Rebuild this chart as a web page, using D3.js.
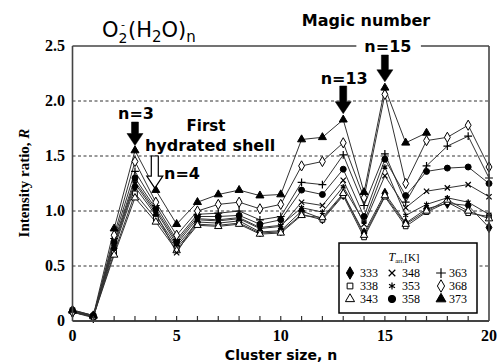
<!DOCTYPE html>
<html>
<head>
<meta charset="utf-8">
<script src="https://cdn.jsdelivr.net/npm/d3@7"></script>
<style>
  body { margin: 0; background: #fff; }
  svg { display: block; }
</style>
</head>
<body>
<div id="chart"></div>
<script>
// cluster size n = 0..20
var clusterSize = d3.range(0, 21);
var yTicks = [0, 0.5, 1.0, 1.5, 2.0, 2.5];
var yTickLabels = ["0", "0.5", "1.0", "1.5", "2.0", "2.5"];
var xTicks = [0, 5, 10, 15, 20];
var temps = ["333", "338", "343", "348", "353", "358", "363", "368", "373"];

// intensity ratio R per temperature
var r333 = [0.08,0.03,0.66,1.22,0.96,0.68,0.90,0.89,0.91,0.81,0.82,1.00,0.93,1.15,0.80,1.16,0.89,1.02,1.07,1.05,0.85];
var r338 = [0.10,0.05,0.62,1.16,0.93,0.66,0.88,0.87,0.89,0.80,0.81,0.97,0.92,1.14,0.76,1.13,0.86,0.99,1.08,0.98,0.95];
var r343 = [0.09,0.04,0.60,1.12,0.90,0.64,0.87,0.86,0.88,0.79,0.80,0.96,0.94,1.16,0.78,1.14,0.88,1.00,1.10,1.00,0.93];
var r348 = [0.09,0.04,0.68,1.25,0.98,0.62,0.92,0.91,0.93,0.84,0.86,1.08,1.05,1.28,0.88,1.32,1.03,1.18,1.21,1.24,1.13];
var r353 = [0.08,0.04,0.70,1.27,1.00,0.70,0.93,0.92,0.94,0.85,0.87,1.03,0.99,1.22,0.90,1.40,0.96,1.06,1.12,1.08,0.97];
var r358 = [0.09,0.05,0.72,1.30,1.02,0.72,0.95,0.95,0.96,0.88,0.92,1.19,1.15,1.38,0.95,1.47,1.14,1.36,1.39,1.40,1.25];
var r363 = [0.08,0.04,0.75,1.36,1.05,0.74,0.97,0.98,1.00,0.92,0.95,1.26,1.24,1.51,1.05,1.52,1.08,1.41,1.59,1.68,1.30];
var r368 = [0.08,0.04,0.78,1.45,1.08,0.78,1.00,1.06,1.08,1.02,1.06,1.41,1.45,1.62,1.12,2.06,1.25,1.64,1.67,1.78,1.40];
var r373 = [0.10,0.05,0.84,1.55,1.19,0.88,1.08,1.15,1.19,1.14,1.15,1.65,1.67,1.83,1.17,2.12,1.62,1.71,null,null,null];

var allSeries = [r333, r338, r343, r348, r353, r358, r363, r368, r373];

// marker style per series: symbol type, filled or open
var symbolTypes = [d3.symbolDiamond, d3.symbolSquare, d3.symbolTriangle, d3.symbolTimes,
                   d3.symbolAsterisk, d3.symbolCircle, d3.symbolPlus, d3.symbolDiamond, d3.symbolTriangle];
var symbolFill = ["#000", "#fff", "#fff", "none", "none", "#000", "none", "#fff", "#000"];
var symbolSize = [30, 22, 24, 20, 22, 28, 22, 30, 28];

var serif = "'Liberation Serif', 'Times New Roman', serif";
var gothic = "'DejaVu Sans', sans-serif";

var W = 501, H = 362;
var svg = d3.select("#chart").append("svg")
            .attr("width", W)
            .attr("height", H);

var xScale = d3.scaleLinear().domain([0, 20]).range([72.5, 489]);
var yScale = d3.scaleLinear().domain([0, 2.5]).range([321, 46]);

// dashed grid lines
svg.append("g")
   .selectAll("line")
   .data(yTicks.slice(1, 5))
   .enter()
   .append("line")
   .attr("x1", xScale(0)).attr("x2", xScale(20))
   .attr("y1", d=>yScale(d)).attr("y2", d=>yScale(d))
   .attr("stroke", "#333")
   .attr("stroke-width", 1)
   .attr("stroke-dasharray", "3,2.5");

// series lines and markers
var line = d3.line()
             .defined(d=>d != null)
             .x((d, i)=>xScale(clusterSize[i]))
             .y(d=>yScale(d));

var seriesG = svg.append("g");
allSeries.forEach(function(vals, k){
    seriesG.append("path")
           .datum(vals)
           .attr("fill", "none")
           .attr("stroke", "#333")
           .attr("stroke-width", 1)
           .attr("d", line);
});
allSeries.forEach(function(vals, k){
    var open = symbolFill[k] == "none";
    seriesG.append("g")
           .selectAll("path")
           .data(vals.map((v, i)=>[clusterSize[i], v]).filter(d=>d[1] != null))
           .enter()
           .append("path")
           .attr("transform", d=>"translate(" + xScale(d[0]) + "," + yScale(d[1]) + ")")
           .attr("d", d3.symbol().type(symbolTypes[k]).size(symbolSize[k]))
           .attr("fill", symbolFill[k])
           .attr("stroke", "#000")
           .attr("stroke-width", open ? 1.2 : 1);
});

// frame: left, right, bottom, top (top broken by the n=15 label)
var frame = svg.append("g").attr("stroke", "#444").attr("fill", "none");
frame.append("line").attr("x1", xScale(0)).attr("x2", xScale(0))
     .attr("y1", yScale(2.5)).attr("y2", yScale(0)).attr("stroke-width", 1.6);
frame.append("line").attr("x1", xScale(20)).attr("x2", xScale(20))
     .attr("y1", yScale(2.5)).attr("y2", yScale(0)).attr("stroke-width", 1.6);
frame.append("line").attr("x1", xScale(0)).attr("x2", xScale(20))
     .attr("y1", yScale(0)).attr("y2", yScale(0)).attr("stroke-width", 2.2);
frame.append("line").attr("x1", xScale(0)).attr("x2", xScale(13.63))
     .attr("y1", yScale(2.5)).attr("y2", yScale(2.5)).attr("stroke-width", 1.4);
frame.append("line").attr("x1", xScale(16.73)).attr("x2", xScale(20))
     .attr("y1", yScale(2.5)).attr("y2", yScale(2.5)).attr("stroke-width", 1.4);

// x axis inner ticks
svg.append("g")
   .selectAll("line")
   .data(d3.range(1, 20))
   .enter()
   .append("line")
   .attr("x1", d=>xScale(d)).attr("x2", d=>xScale(d))
   .attr("y1", yScale(0)).attr("y2", yScale(0) - 5)
   .attr("stroke", "#333").attr("stroke-width", 1.2);

// tick labels
svg.append("g")
   .selectAll("text")
   .data(xTicks)
   .enter()
   .append("text")
   .attr("x", d=>xScale(d))
   .attr("y", 341)
   .attr("text-anchor", "middle")
   .style("font-family", serif)
   .style("font-weight", "bold")
   .style("font-size", "16px")
   .text(d=>d);
svg.append("g")
   .selectAll("text")
   .data(yTicks)
   .enter()
   .append("text")
   .attr("x", 65)
   .attr("y", d=>yScale(d) + 5)
   .attr("text-anchor", "end")
   .style("font-family", serif)
   .style("font-weight", "bold")
   .style("font-size", "16px")
   .text((d, i)=>yTickLabels[i]);

// axis titles
svg.append("text")
   .attr("x", 281).attr("y", 360)
   .attr("text-anchor", "middle")
   .style("font-family", gothic)
   .style("font-weight", "bold")
   .style("font-size", "14px")
   .text("Cluster size, n");
var yLab = svg.append("text")
   .attr("transform", "translate(29,183) rotate(-90)")
   .attr("text-anchor", "middle")
   .style("font-family", serif)
   .style("font-weight", "bold")
   .style("font-size", "15px");
yLab.append("tspan").text("Intensity ratio, ");
yLab.append("tspan").style("font-style", "italic").text("R");

// title O2-(H2O)n, the minus sits above the subscript 2
var title = svg.append("text")
   .attr("x", 102).attr("y", 37)
   .style("font-family", gothic)
   .style("font-size", "21px");
title.append("tspan").text("O");
var sub2 = title.append("tspan").attr("dy", 6).style("font-size", "14px").text("2");
var minus = title.append("tspan").attr("dy", -15).style("font-size", "11px").text("-");
title.append("tspan").attr("dy", 9).text("(H");
title.append("tspan").attr("dy", 5).style("font-size", "15px").text("2");
title.append("tspan").attr("dy", -5).text("O)");
title.append("tspan").attr("dy", 5).style("font-size", "15px").text("n");
var w2 = title.node().getSubStringLength(1, 1);
var wm = title.node().getSubStringLength(2, 1);
minus.attr("dx", -(w2 + wm) / 2);
d3.select(minus.node().nextSibling).attr("dx", (w2 - wm) / 2 + 0.5);

// annotations
function note(x, y, txt, size) {
    svg.append("text")
       .attr("x", x).attr("y", y)
       .attr("text-anchor", "middle")
       .style("font-family", gothic)
       .style("font-weight", "bold")
       .style("font-size", size + "px")
       .text(txt);
}
note(366, 26, "Magic number", 16);
note(xScale(15) + 3, 52, "n=15", 16);
note(xScale(13) + 1, 84, "n=13", 16);
note(xScale(3) + 1, 119, "n=3", 16);
note(206, 131, "First", 15);
note(210, 151, "hydrated shell", 16);
note(182, 179, "n=4", 16);

// arrows pointing down at the peaks
function arrow(cx, top, tip, filled) {
    var sw = 3.5, hw = 8, hh = 12;
    var pts = [[cx - sw, top], [cx + sw, top], [cx + sw, tip - hh], [cx + hw, tip - hh],
               [cx, tip], [cx - hw, tip - hh], [cx - sw, tip - hh]];
    svg.append("path")
       .attr("d", "M" + pts.join("L") + "Z")
       .attr("fill", filled ? "#000" : "#fff")
       .attr("stroke", "#000")
       .attr("stroke-width", filled ? 0.5 : 1.2);
}
arrow(xScale(3), 122, yScale(r373[3]) - 5, true);
arrow(xScale(13), 86, yScale(r373[13]) - 6, true);
arrow(xScale(15), 55, yScale(r373[15]) - 6, true);
arrow(xScale(4) - 1, 156, yScale(r373[4]) - 2, false);

// legend
var lg = svg.append("g");
lg.append("rect")
  .attr("x", 339).attr("y", 243).attr("width", 138).attr("height", 70)
  .attr("fill", "#fff").attr("stroke", "#000").attr("stroke-width", 1.5);
var lt = lg.append("text")
  .attr("x", 404).attr("y", 261)
  .attr("text-anchor", "middle")
  .style("font-family", serif)
  .style("font-size", "11px");
lt.append("tspan").style("font-style", "italic").style("font-size", "12px").text("T");
lt.append("tspan").attr("dy", 2).style("font-size", "7px").text("arr.");
lt.append("tspan").attr("dy", -2).text("[K]");

var colX = [350, 392, 441];
var rowY = [273, 286, 299];
temps.forEach(function(t, k){
    var col = Math.floor(k / 3), row = k % 3;
    var open = symbolFill[k] == "none";
    lg.append("path")
      .attr("transform", "translate(" + colX[col] + "," + rowY[row] + ")")
      .attr("d", d3.symbol().type(symbolTypes[k]).size(symbolSize[k] * 1.5))
      .attr("fill", symbolFill[k])
      .attr("stroke", "#000")
      .attr("stroke-width", open ? 1.2 : 1);
    lg.append("text")
      .attr("x", colX[col] + (col == 2 ? 8 : 10))
      .attr("y", rowY[row] + 4)
      .style("font-family", serif)
      .style("font-size", "12px")
      .text(t);
});
</script>
</body>
</html>
